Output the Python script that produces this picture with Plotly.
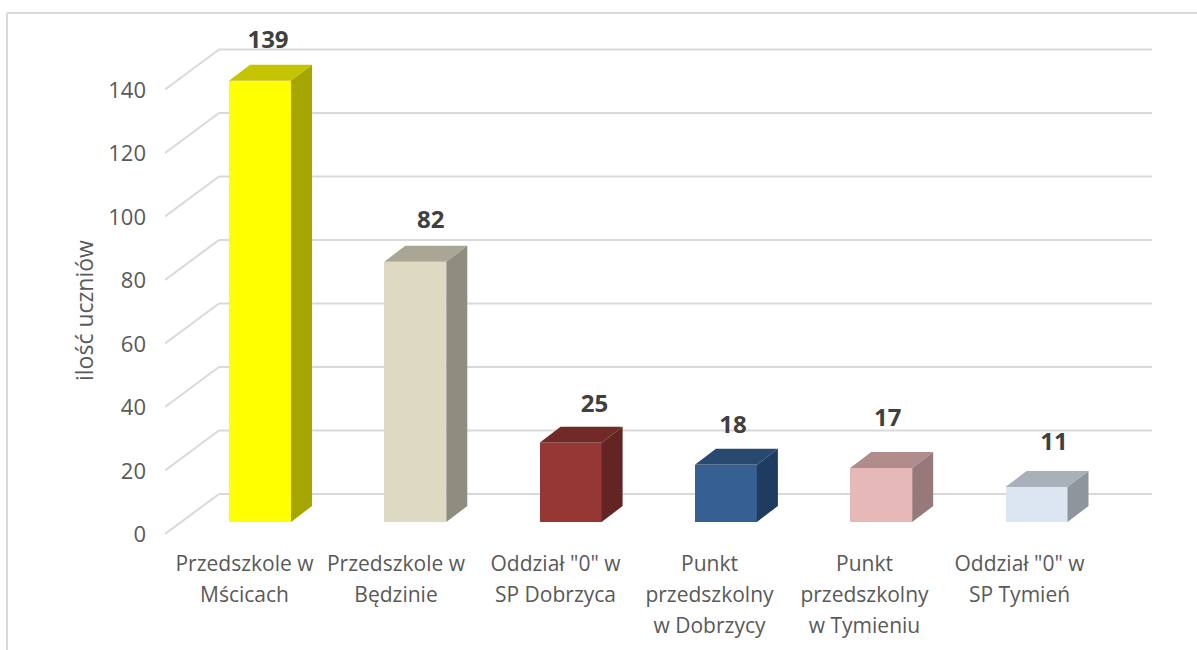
import plotly.graph_objects as go

# ---- data ----
categories = [
    ["Przedszkole w", "Mścicach"],
    ["Przedszkole w", "Będzinie"],
    ['Oddział "0" w', "SP Dobrzyca"],
    ["Punkt", "przedszkolny", "w Dobrzycy"],
    ["Punkt", "przedszkolny", "w Tymieniu"],
    ['Oddział "0" w', "SP Tymień"],
]
values = [139, 82, 25, 18, 17, 11]
front_colors = ["#FFFF00", "#DDD9C3", "#953735", "#366092", "#E6B9B8", "#DCE6F2"]
top_colors = ["#C4C400", "#A9A696", "#722A28", "#2A4970", "#B08D8C", "#A8B0B9"]
side_colors = ["#A6A600", "#8F8D7F", "#632523", "#1F3C60", "#967978", "#8F959D"]
y_ticks = [0, 20, 40, 60, 80, 100, 120, 140]
y_title = "ilość uczniów"

# ---- layout constants (pixels) ----
W, H = 1197, 650
PLOT_L, PLOT_R, PLOT_T, PLOT_B = 165, 1152, 30, 546
X0_PX, PX_X = 244.5, 155.3      # pixel of category 0 label, pixels per category
Y0_PX, PX_Y = 534.5, 3.175      # pixel of value 0 tick, pixels per unit
BAR_OFFSET_PX = 15.5            # bar centre relative to its label
BAR_W_PX = 62
DEPTH_X_PX, DEPTH_Y_PX = 21, 16
BAR_FLOOR_PX = 522
FLOOR_FRONT_PX, FLOOR_BACK_PX = 534, 494
WALL_X_PX = 219
label_nudge_px = [0, -3.8, 0.4, -0.9, -1.2, -1.5]
value_dx_px = [8, 15.5, 24, 7, 6.5, 17.5]
value_lift_px = [39, 40, 37, 38, 48, 43]
X_TICK_SIZE = 21
Y_TICK_SIZE = 22
TITLE_SIZE = 23
TICK_COLOR = "#595959"
GRID = "#D9D9D9"


def px_x(p):
    return (p - X0_PX) / PX_X


def px_y(p):
    return (Y0_PX - p) / PX_Y


bar_base = px_y(BAR_FLOOR_PX)
bar_x = [i + BAR_OFFSET_PX / PX_X for i in range(len(values))]
half_w = BAR_W_PX / PX_X / 2
dx, dy = DEPTH_X_PX / PX_X, DEPTH_Y_PX / PX_Y

fig = go.Figure()
fig.add_bar(
    x=bar_x, y=values, base=bar_base, width=2 * half_w,
    marker=dict(color=front_colors, line=dict(width=0)),
    showlegend=False, hoverinfo="y",
)

for x, v, tc, sc in zip(bar_x, values, top_colors, side_colors):
    l, r, t = x - half_w, x + half_w, bar_base + v
    fig.add_scatter(
        x=[l, r, r + dx, l + dx, l], y=[t, t, t + dy, t + dy, t],
        mode="lines", fill="toself", fillcolor=tc, line=dict(width=0),
        showlegend=False, hoverinfo="skip",
    )
    fig.add_scatter(
        x=[r, r + dx, r + dx, r, r], y=[bar_base, bar_base + dy, t + dy, t, bar_base],
        mode="lines", fill="toself", fillcolor=sc, line=dict(width=0),
        showlegend=False, hoverinfo="skip",
    )

fig.add_scatter(
    x=[x + d / PX_X for x, d in zip(bar_x, value_dx_px)],
    y=[bar_base + v + lift / PX_Y for v, lift in zip(values, value_lift_px)],
    mode="text", text=[str(v) for v in values],
    textposition="middle center",
    textfont=dict(family="Open Sans", size=24, color="#404040", weight="bold"),
    showlegend=False, hoverinfo="skip",
)

shapes = []
for tick in y_ticks:
    front = px_y(FLOOR_FRONT_PX) + tick
    back = px_y(FLOOR_BACK_PX) + tick
    shapes.append(dict(type="line", layer="below", xref="x", yref="y",
                       x0=px_x(PLOT_L), y0=front, x1=px_x(WALL_X_PX), y1=back,
                       line=dict(color=GRID, width=2)))
    shapes.append(dict(type="line", layer="below", xref="x", yref="y",
                       x0=px_x(WALL_X_PX), y0=back, x1=px_x(PLOT_R), y1=back,
                       line=dict(color=GRID, width=2)))

# chart frame
frame_x0, frame_y0 = 7, 13
shapes.append(dict(type="line", layer="below", xref="paper", yref="paper",
                   x0=(frame_x0 - PLOT_L) / (PLOT_R - PLOT_L), x1=(W - PLOT_L) / (PLOT_R - PLOT_L),
                   y0=(PLOT_B - frame_y0) / (PLOT_B - PLOT_T), y1=(PLOT_B - frame_y0) / (PLOT_B - PLOT_T),
                   line=dict(color=GRID, width=2)))
shapes.append(dict(type="line", layer="below", xref="paper", yref="paper",
                   x0=(frame_x0 - PLOT_L) / (PLOT_R - PLOT_L), x1=(frame_x0 - PLOT_L) / (PLOT_R - PLOT_L),
                   y0=(PLOT_B - frame_y0) / (PLOT_B - PLOT_T), y1=(PLOT_B - H) / (PLOT_B - PLOT_T),
                   line=dict(color=GRID, width=2)))


def tick_label(lines):
    return "<br>".join(f'<span style="font-size:{X_TICK_SIZE}px">{s}</span>' for s in lines)


fig.update_layout(
    width=W, height=H,
    margin=dict(l=PLOT_L, r=W - PLOT_R, t=PLOT_T, b=H - PLOT_B, autoexpand=False),
    paper_bgcolor="white", plot_bgcolor="white",
    font=dict(family="Open Sans", color=TICK_COLOR),
    shapes=shapes,
    bargap=0,
    xaxis=dict(
        range=[px_x(PLOT_L), px_x(PLOT_R)], showgrid=False, zeroline=False, showline=False,
        tickmode="array",
        tickvals=[i + n / PX_X for i, n in enumerate(label_nudge_px)],
        ticktext=[tick_label(c) for c in categories],
        ticks="", tickangle=0, tickfont=dict(size=24, color=TICK_COLOR),
    ),
    yaxis=dict(
        range=[px_y(PLOT_B), px_y(PLOT_T)], showgrid=False, zeroline=False, showline=False,
        tickmode="array", tickvals=y_ticks, ticktext=[str(t) for t in y_ticks],
        ticks="", ticklabelstandoff=18, tickfont=dict(size=Y_TICK_SIZE, color=TICK_COLOR),
    ),
    annotations=[dict(
        text=y_title, textangle=-90, showarrow=False,
        xref="paper", yref="paper",
        x=(84 - PLOT_L) / (PLOT_R - PLOT_L), y=(PLOT_B - 311) / (PLOT_B - PLOT_T),
        xanchor="center", yanchor="middle",
        font=dict(size=TITLE_SIZE, color=TICK_COLOR),
    )],
)

fig.write_html(
    "out.html",
    config=dict(displayModeBar=False),
    post_script="document.body.style.margin='0';document.documentElement.style.overflow='hidden';",
)
